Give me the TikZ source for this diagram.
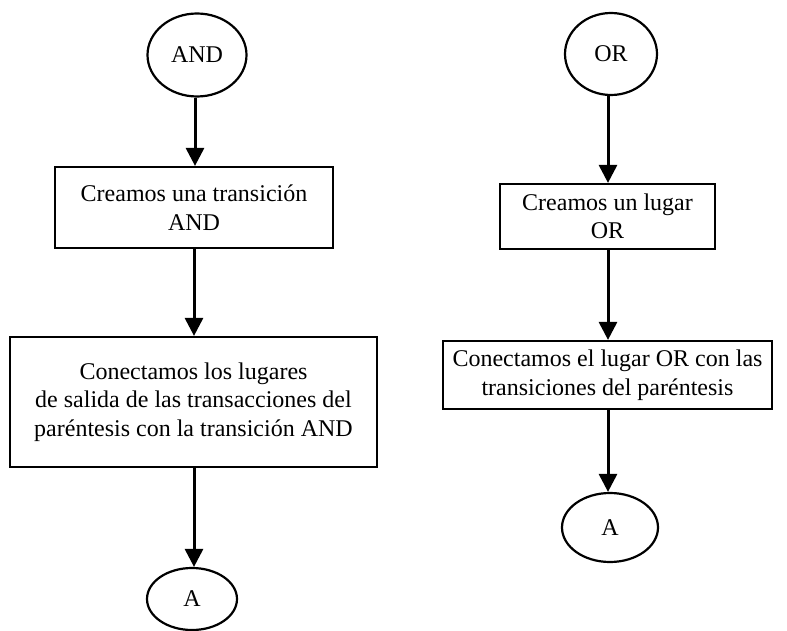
\documentclass[tikz,border=0pt]{standalone}
\usepackage{fontspec}
\setmainfont{Liberation Serif}
\usetikzlibrary{shapes.geometric,arrows.meta}
\tikzset{
  body/.style={font=\fontsize{24}{28.5}\selectfont},
  stepbox/.style={draw, line width=2.2pt, inner sep=0pt, align=center, body},
  term/.style={draw, ellipse, line width=2.2pt, inner sep=0pt, body},
  flow/.style={line width=3pt, -{Triangle[length=18pt,width=18pt]}}
}
\begin{document}
\begin{tikzpicture}[x=1pt,y=-1pt]
\useasboundingbox (0,0) rectangle (787,631);
% left column: AND
\node[term, minimum width=99pt, minimum height=83pt] (and) at (197,55) {AND};
\node[stepbox, minimum width=278pt, minimum height=81pt] (t1) at (194,207.5)
  {Creamos una transición\\AND};
\node[stepbox, minimum width=367pt, minimum height=130pt] (t2) at (193.5,402)
  {Conectamos los lugares\\de salida de las transacciones del\\paréntesis con la transición AND};
\node[term, minimum width=90pt, minimum height=62pt] (a1) at (192,599) {A};
% right column: OR
\node[term, minimum width=92pt, minimum height=82pt] (or) at (611,54) {OR};
\node[stepbox, minimum width=215pt, minimum height=65pt] (p1) at (607.5,216.5)
  {Creamos un lugar\\OR};
\node[stepbox, minimum width=329pt, minimum height=68pt] (p2) at (607.5,375)
  {Conectamos el lugar OR con las\\transiciones del paréntesis};
\node[term, minimum width=96pt, minimum height=69pt] (a2) at (610,527.5) {A};
% connectors
\draw[flow] (and.south) ++(-2,0) coordinate (s1) -- (s1 |- t1.north);
\draw[flow] (t1.south) coordinate (s2) -- (s2 |- t2.north);
\draw[flow] (t2.south) ++(0.5,0) coordinate (s3) -- (s3 |- a1.north);
\draw[flow] (or.south) ++(-3,0) coordinate (s4) -- (s4 |- p1.north);
\draw[flow] (s4 |- p1.south) coordinate (s5) -- (s5 |- p2.north);
\draw[flow] (s5 |- p2.south) coordinate (s6) -- (s6 |- a2.north);
\end{tikzpicture}
\end{document}
